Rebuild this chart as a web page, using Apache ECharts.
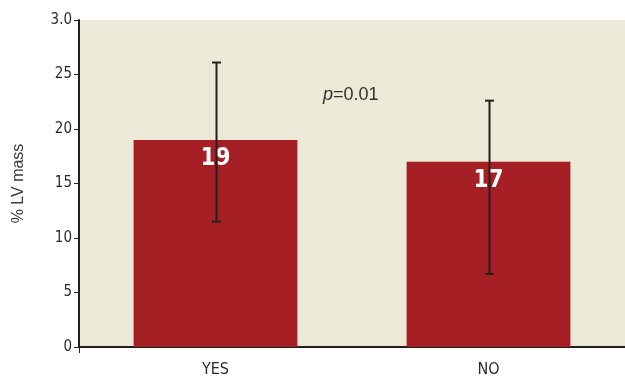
<!DOCTYPE html>
<html>
<head>
<meta charset="utf-8">
<script src="https://cdn.jsdelivr.net/npm/echarts@6/dist/echarts.min.js"></script>
<style>
  html, body { margin: 0; padding: 0; background: #ffffff; }
  #chart { width: 625px; height: 379px; }
</style>
</head>
<body>
<div id="chart"></div>
<script>
// Group labels and mean values (% LV mass)
const categories = ['YES', 'NO'];
const meanValues = [19, 17];
// Error bar extents
const lowerValues = [11.5, 6.7];
const upperValues = [26.1, 22.6];
// Y axis tick labels as printed
const yTickLabels = { 0: '0', 5: '5', 10: '10', 15: '15', 20: '20', 25: '25', 30: '3.0' };

const ink = '#231f20';
const narrow = '"Liberation Sans Narrow", "DejaVu Sans Condensed", sans-serif';
const chart = echarts.init(document.getElementById('chart'));

chart.setOption({
  animation: false,
  backgroundColor: '#ffffff',
  grid: {
    left: 79, right: 0, top: 20, bottom: 32,
    show: true, backgroundColor: '#ECE9D6', borderWidth: 0
  },
  xAxis: {
    type: 'category',
    data: categories,
    axisLine: { lineStyle: { color: ink, width: 2 } },
    axisTick: {
      show: true, length: 6,
      interval: function (index) { return index === 0; },
      lineStyle: { color: ink, width: 1 }
    },
    axisLabel: {
      color: '#2b2b2b', fontSize: 16, margin: 15,
      fontFamily: narrow
    }
  },
  yAxis: {
    type: 'value',
    min: 0, max: 30, interval: 5,
    name: '% LV mass',
    nameLocation: 'middle',
    nameGap: 52,
    nameTextStyle: { color: '#3a3a3a', fontSize: 16, fontFamily: 'Liberation Sans, Arial, sans-serif' },
    splitLine: { show: false },
    axisLine: { show: true, lineStyle: { color: ink, width: 2 } },
    axisTick: { show: true, length: 5, lineStyle: { color: ink, width: 1 } },
    axisLabel: {
      color: '#2b2b2b', fontSize: 15, margin: 7,
      fontFamily: narrow,
      formatter: v => yTickLabels[v] !== undefined ? yTickLabels[v] : String(v)
    }
  },
  series: [
    {
      type: 'bar',
      data: meanValues,
      barWidth: '60%',
      itemStyle: { color: '#A61F24' },
      label: {
        show: true,
        position: 'insideTop',
        distance: 7,
        color: '#ffffff',
        fontSize: 24,
        fontWeight: 'bold',
        fontFamily: narrow
      },
      z: 2
    },
    {
      type: 'custom',
      z: 5,
      data: categories.map((c, i) => [i, lowerValues[i], upperValues[i]]),
      renderItem: function (params, api) {
        const lo = api.coord([api.value(0), api.value(1)]);
        const hi = api.coord([api.value(0), api.value(2)]);
        const x = Math.round(lo[0]) + 0.5;
        const cap = 4.5;
        const style = { stroke: ink, lineWidth: 2 };
        return {
          type: 'group',
          children: [
            { type: 'line', shape: { x1: x, y1: hi[1], x2: x, y2: lo[1] }, style: style },
            { type: 'line', shape: { x1: x - cap, y1: hi[1], x2: x + cap, y2: hi[1] }, style: style },
            { type: 'line', shape: { x1: x - cap, y1: lo[1], x2: x + cap, y2: lo[1] }, style: style }
          ]
        };
      }
    }
  ],
  graphic: [
    {
      type: 'text',
      left: 323,
      top: 86,
      style: {
        text: '{i|p}{n|=0.01}',
        rich: {
          i: { fontStyle: 'italic', fontSize: 18, fill: '#333333', fontFamily: 'Liberation Sans, Arial, sans-serif' },
          n: { fontSize: 18, fill: '#333333', fontFamily: 'Liberation Sans, Arial, sans-serif' }
        }
      }
    }
  ]
});
</script>
</body>
</html>
